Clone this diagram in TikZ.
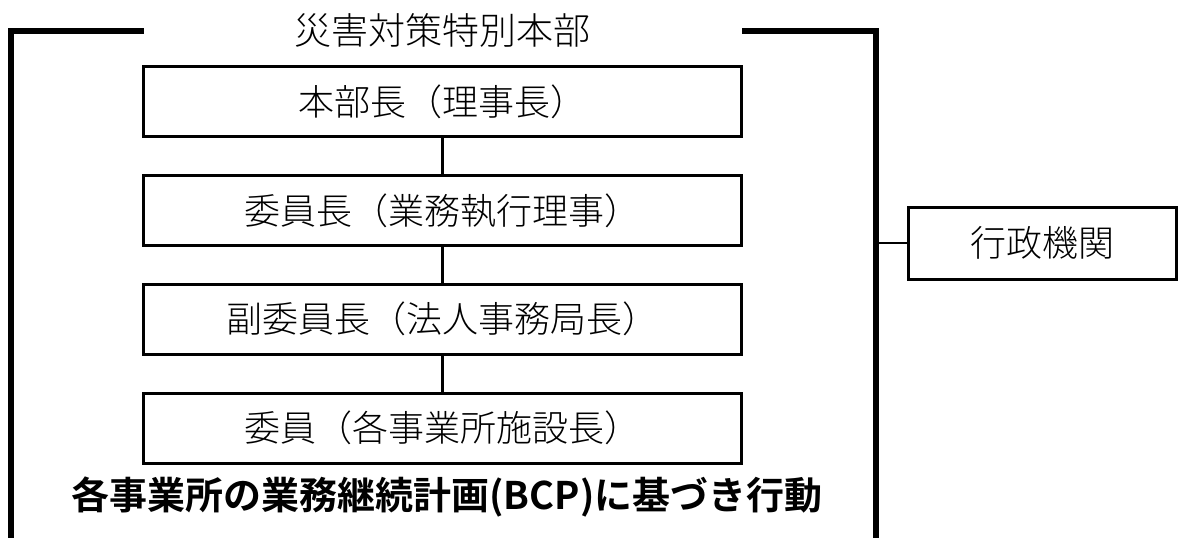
\documentclass[tikz,border=0pt]{standalone}
\usepackage{fontspec}
\newfontfamily\jp{Noto Sans CJK JP Light}[BoldFont={Noto Sans CJK JP Bold}]
\usetikzlibrary{positioning}

\begin{document}
\begin{tikzpicture}[x=1pt,y=-1pt,
  member/.style={draw,line width=3pt,minimum width=598pt,minimum height=70pt,inner sep=0pt,
    font=\jp\fontsize{36}{36}\selectfont},
  link/.style={line width=2.5pt}]
  \useasboundingbox (0,0) rectangle (1184,538);

  % Rahmen des Hauptquartiers
  \coordinate (frameBL) at (11,538);
  \coordinate (frameTL) at (11,31);
  \coordinate (frameL) at (144,31);
  \coordinate (frameR) at (742,31);
  \coordinate (frameTR) at (875.5,31);
  \coordinate (frameBR) at (875.5,538);
  \coordinate (frameGov) at (875.5,243);
  \draw[line width=6pt,line join=miter] (frameBL) -- (frameTL) -- (frameL);
  \draw[line width=6pt,line join=miter] (frameR) -- (frameTR) -- (frameBR);
  \node[font=\jp\fontsize{37}{37}\selectfont] (title) at (442,30) {災害対策特別本部};

  % Mitglieder
  \node[member] (chief) at (442.5,101.7) {本部長（理事長）};
  \node[member,below=35.8pt of chief] (chair) {委員長（業務執行理事）};
  \node[member,below=35.8pt of chair] (vice) {副委員長（法人事務局長）};
  \node[member,below=35.8pt of vice] (staff) {委員（各事業所施設長）};
  \draw[link] (chief) -- (chair);
  \draw[link] (chair) -- (vice);
  \draw[link] (vice) -- (staff);

  \node[font=\jp\bfseries\fontsize{38}{38}\selectfont] (bcp) at (447,497) {各事業所の業務継続計画(BCP)に基づき行動};

  % Behoerden
  \node[draw,line width=3pt,minimum width=268pt,minimum height=72pt,inner sep=0pt,
    font=\jp\fontsize{36}{36}\selectfont] (gov) at (1042.5,243) {行政機関};
  \draw[link] (frameGov) -- (gov.west);
\end{tikzpicture}
\end{document}
